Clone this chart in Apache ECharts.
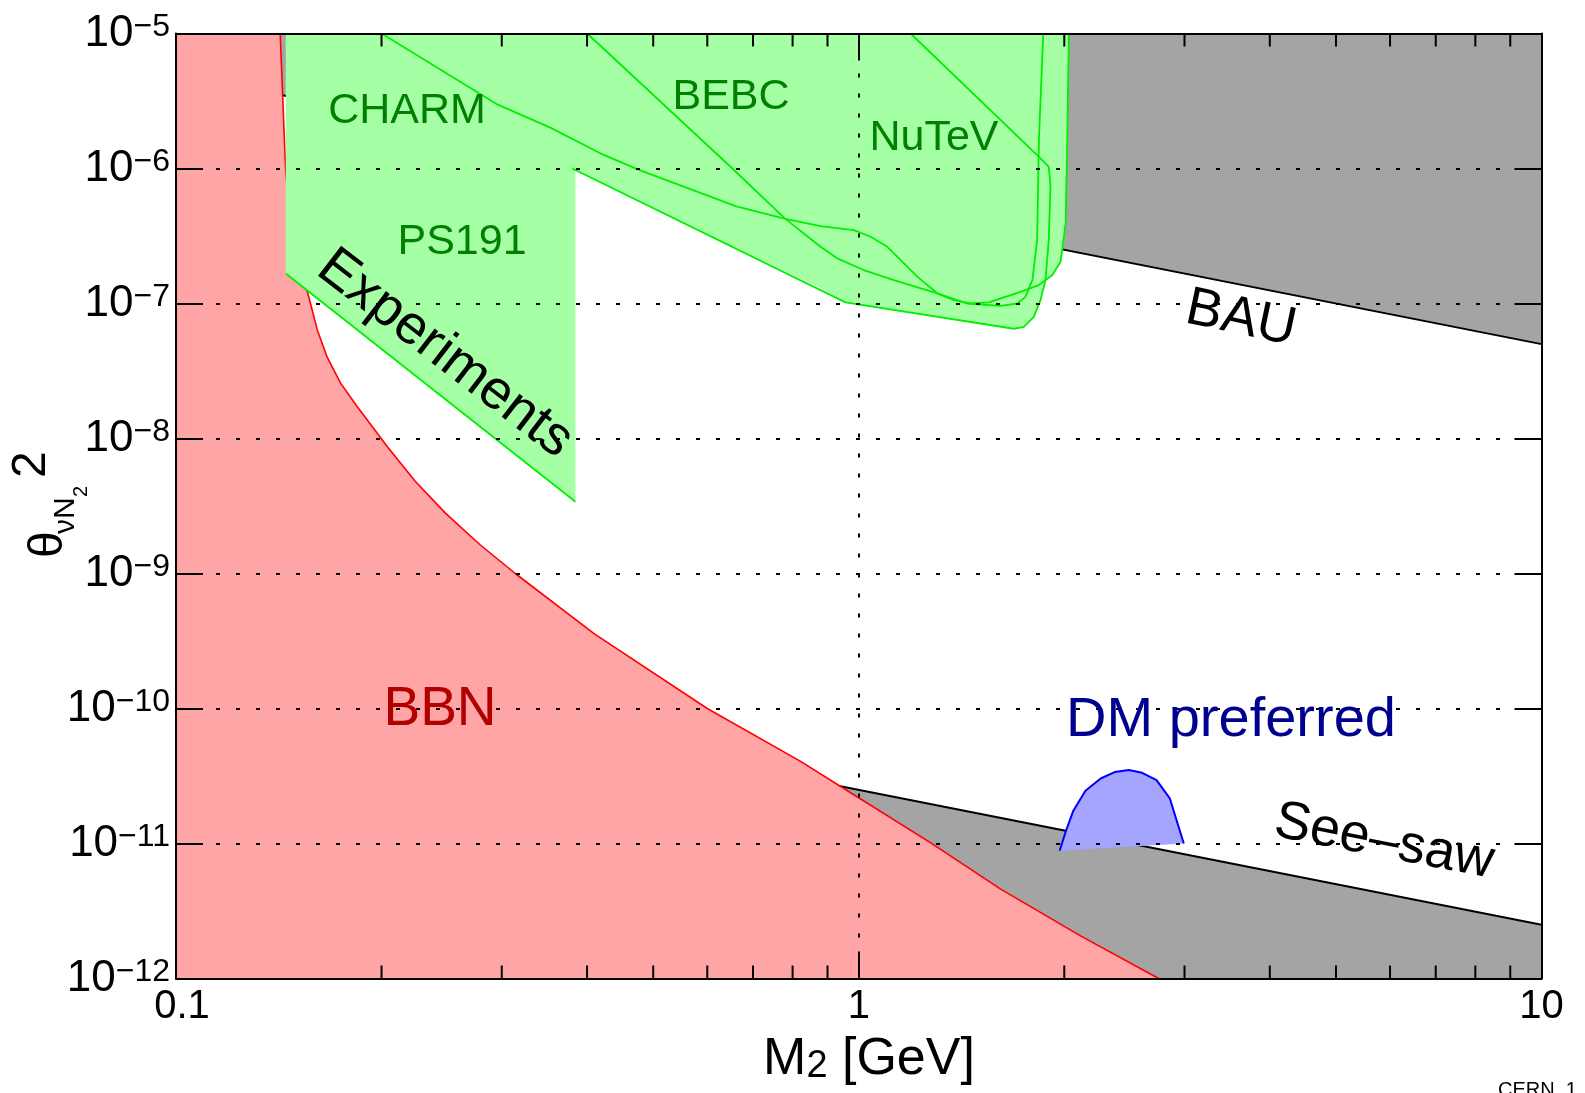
<!DOCTYPE html>
<html>
<head>
<meta charset="utf-8">
<script src="https://cdn.jsdelivr.net/npm/echarts@6/dist/echarts.min.js"></script>
<style>
  html, body { margin: 0; padding: 0; background: #fff; }
  #chart { width: 1585px; height: 1093px; }
</style>
</head>
<body>
<div id="chart"></div>
<script>
// axis ranges and tick labels
const xMin = 0.1, xMax = 10, yMin = 1e-12, yMax = 1e-5;
const xTickLabels = ['0.1', '1', '10'];
const xMinorTicks = [0.2, 0.3, 0.4, 0.5, 0.6, 0.7, 0.8, 0.9, 2, 3, 4, 5, 6, 7, 8, 9];

// BBN lower bound (M [GeV], theta^2)
const bbnCurve = [
  [0.1421, 1e-5], [0.1447, 1e-6], [0.1475, 3.2e-7], [0.1515, 1.7e-7], [0.156, 1.19e-7],
  [0.1574, 1.0e-7], [0.161, 6.4e-8], [0.1665, 4.0e-8], [0.1742, 2.57e-8], [0.1843, 1.72e-8],
  [0.204, 8.7e-9], [0.2239, 4.84e-9], [0.2483, 2.79e-9], [0.2786, 1.64e-9], [0.314, 1e-9],
  [0.41, 3.57e-10], [0.6, 1e-10], [0.822, 4.06e-11], [0.937, 2.68e-11], [1.275, 1.01e-11],
  [1.616, 4.57e-12], [2.116, 2.06e-12], [2.75, 1e-12]
];

// BAU and see-saw lines
const bauLine = [[0.142, 3.52e-6], [10, 5e-8]];
const seesawLine = [[0.936, 2.67e-11], [10, 2.5e-12]];

// union of the experimental exclusions
const expEnvelope = [
  [0.1448, 1e-5], [0.1448, 1.67e-7], [0.3846, 3.4e-9], [0.3846, 9.7e-7], [0.3805, 1e-6],
  [0.561, 3.81e-7], [0.879, 1.30e-7], [0.9565, 1.02e-7], [1.687, 6.5e-8], [1.745, 6.7e-8],
  [1.805, 7.97e-8], [1.846, 1.06e-7], [1.877, 1.49e-7], [1.92, 1.62e-7], [1.975, 2.04e-7],
  [1.986, 2.49e-7], [2.009, 3.92e-7], [2.02, 1.62e-6], [2.031, 1e-5]
];
const ps191Lower = [[0.1448, 1.67e-7], [0.3846, 3.4e-9]];
const charmLine = [
  [0.2, 1e-5], [0.296, 2.97e-6], [0.354, 2.0e-6], [0.419, 1.29e-6], [0.4755, 9.8e-7],
  [0.662, 5.24e-7], [0.781, 4.23e-7], [0.879, 3.74e-7], [0.9836, 3.5e-7], [1.041, 3.12e-7],
  [1.101, 2.63e-7], [1.218, 1.58e-7], [1.303, 1.19e-7], [1.378, 1.06e-7], [1.458, 1.0e-7],
  [1.55, 1.02e-7], [1.726, 1.22e-7], [1.835, 1.37e-7], [1.92, 1.62e-7], [1.975, 2.04e-7],
  [1.986, 2.49e-7], [2.009, 3.92e-7], [2.02, 1.62e-6], [2.031, 1e-5]
];
const bebcLine = [
  [0.4002, 1e-5], [0.653, 1e-6], [0.78, 4.25e-7], [0.879, 2.63e-7], [0.93, 2.16e-7],
  [1.017, 1.77e-7], [1.126, 1.49e-7], [1.303, 1.19e-7], [1.442, 1.0e-7], [1.613, 9.6e-8],
  [1.707, 1.0e-7], [1.755, 1.12e-7], [1.796, 1.49e-7], [1.825, 2.95e-7], [1.836, 1.62e-6],
  [1.863, 1e-5]
];
const nutevLine = [
  [0.3805, 1e-6], [0.9565, 1.02e-7], [1.687, 6.5e-8], [1.745, 6.7e-8], [1.805, 7.97e-8],
  [1.846, 1.06e-7], [1.877, 1.49e-7], [1.898, 2.95e-7], [1.909, 7.5e-7], [1.898, 1.03e-6],
  [1.846, 1.19e-6], [1.191, 1e-5]
];

// DM preferred blob
const dmRegion = [
  [1.969, 8.83e-12], [2.009, 1.22e-11], [2.062, 1.75e-11], [2.148, 2.46e-11], [2.261, 3.03e-11],
  [2.37, 3.38e-11], [2.487, 3.5e-11], [2.601, 3.34e-11], [2.73, 2.95e-11], [2.855, 2.16e-11],
  [2.993, 1.0e-11]
];

const FONT = "'Liberation Sans', Arial, Helvetica, sans-serif";
const GREEN_LINE = '#00f000';

const bauFill = bauLine.concat([[xMax, yMax], [bauLine[0][0], yMax]]);
const seesawFill = seesawLine.concat([[xMax, yMin], [seesawLine[0][0], yMin]]);
const bbnFill = [[xMin, yMax]].concat(bbnCurve, [[xMin, yMin]]);

function fillSeries(points, color, z) {
  return {
    type: 'custom',
    coordinateSystem: 'cartesian2d',
    silent: true,
    z: z,
    data: points,
    renderItem: (params, api) => {
      if (params.dataIndex !== 0) return null;
      return {
        type: 'polygon',
        shape: { points: points.map(p => api.coord(p)) },
        style: { fill: color }
      };
    }
  };
}

function lineSeries(points, color, width, z) {
  return {
    type: 'line',
    data: points,
    symbol: 'none',
    showSymbol: false,
    silent: true,
    z: z,
    lineStyle: { color: color, width: width }
  };
}

const chart = echarts.init(document.getElementById('chart'));

const axisLineStyle = { show: true, lineStyle: { color: '#000', width: 2 } };
const tickStyle = { show: true, inside: true, length: 27, lineStyle: { color: '#000', width: 2 } };
const gridLine = {
  show: true, showMinLine: false, showMaxLine: false,
  lineStyle: { color: '#000', width: 2, type: [4, 16] }
};

function label(text, x, y, size, color, rot) {
  return {
    type: 'text', x: x, y: y, rotation: (rot || 0) * Math.PI / 180, z: 20,
    style: {
      text: text, fill: color, fontSize: size, fontFamily: FONT,
      align: 'center', verticalAlign: 'middle',
      textAlign: 'center', textVerticalAlign: 'middle'
    }
  };
}

function yTitlePart(text, x, y, size) {
  return {
    type: 'text', x: x, y: y,
    style: {
      text: text, fontSize: size, fontFamily: FONT, fill: '#000',
      align: 'left', verticalAlign: 'middle', textAlign: 'left', textVerticalAlign: 'middle'
    }
  };
}

const option = {
  animation: false,
  backgroundColor: '#fff',
  grid: { left: 176, right: 43.5, top: 33.5, bottom: 114.5 },
  xAxis: [
    {
      type: 'log', logBase: 10, min: xMin, max: xMax, splitNumber: 2, position: 'bottom', z: 10,
      axisLine: axisLineStyle, axisTick: tickStyle, splitLine: gridLine,
      axisLabel: {
        fontSize: 40, fontFamily: FONT, color: '#000', margin: 8,
        formatter: v => {
          const i = Math.round(Math.log10(v)) + 1;
          return i === 0 ? '{l|' + xTickLabels[i] + '}' : xTickLabels[i];
        },
        rich: {
          l: { fontSize: 40, fontFamily: FONT, color: '#000', padding: [0, 0, 0, 12] }
        }
      }
    },
    {
      type: 'log', logBase: 10, min: xMin, max: xMax, splitNumber: 2, position: 'top', z: 10,
      axisLine: axisLineStyle, axisTick: tickStyle, splitLine: { show: false },
      axisLabel: { show: false }
    }
  ],
  yAxis: [
    {
      type: 'log', logBase: 10, min: yMin, max: yMax, splitNumber: 7, position: 'left', z: 10,
      axisLine: axisLineStyle, axisTick: tickStyle, splitLine: gridLine,
      axisLabel: {
        margin: 6, color: '#000', fontFamily: FONT,
        formatter: v => '{b|10}{s|\u2212' + (-Math.round(Math.log10(v))) + '}',
        rich: {
          b: { fontSize: 44, lineHeight: 44, verticalAlign: 'bottom', fontFamily: FONT, color: '#000' },
          s: { fontSize: 32, lineHeight: 32, padding: [0, 0, 26, 0], verticalAlign: 'top', fontFamily: FONT, color: '#000' }
        }
      }
    },
    {
      type: 'log', logBase: 10, min: yMin, max: yMax, splitNumber: 7, position: 'right', z: 10,
      axisLine: axisLineStyle, axisTick: tickStyle, splitLine: { show: false },
      axisLabel: { show: false }
    }
  ],
  series: [
    fillSeries(bauFill, '#a4a4a4', 1),
    fillSeries(seesawFill, '#a4a4a4', 1),
    lineSeries(bauLine, '#000', 2, 2),
    lineSeries(seesawLine, '#000', 2, 2),
    fillSeries(bbnFill, '#ffa5a5', 3),
    lineSeries(bbnCurve, '#ff0000', 1.6, 4),
    fillSeries(expEnvelope, '#a5ffa5', 5),
    lineSeries(ps191Lower, GREEN_LINE, 1.8, 6),
    lineSeries(charmLine, GREEN_LINE, 1.8, 6),
    lineSeries(bebcLine, GREEN_LINE, 1.8, 6),
    lineSeries(nutevLine, GREEN_LINE, 1.8, 6),
    fillSeries(dmRegion, '#a5a5ff', 7),
    lineSeries(dmRegion, '#0000ff', 2, 8),
    {
      // minor ticks on the log x axis (bottom and top)
      type: 'custom', coordinateSystem: 'cartesian2d', silent: true, clip: false, z: 11,
      data: xMinorTicks.map(v => [v, yMin]),
      renderItem: (params, api) => {
        const v = api.value(0);
        const b = api.coord([v, yMin]);
        const t = api.coord([v, yMax]);
        const st = { stroke: '#000', lineWidth: 2 };
        return {
          type: 'group',
          children: [
            { type: 'line', shape: { x1: b[0], y1: b[1], x2: b[0], y2: b[1] - 13 }, style: st },
            { type: 'line', shape: { x1: t[0], y1: t[1], x2: t[0], y2: t[1] + 13 }, style: st }
          ]
        };
      }
    }
  ],
  graphic: [
    label('CHARM', 407, 111, 43, '#008000'),
    label('BEBC', 731, 97, 43, '#008000'),
    label('NuTeV', 934, 138, 43, '#008000'),
    label('PS191', 462, 242, 43, '#008000'),
    label('BBN', 440, 710, 55, '#b00000'),
    label('DM preferred', 1231, 721, 56, '#000090'),
    label('Experiments', 445, 354, 55, '#000', -37.5),
    label('BAU', 1241, 319, 54, '#000', -12),
    label('See\u2013saw', 1384, 842, 54, '#000', -11),
    {
      type: 'text', x: 869, y: 1034, z: 20,
      style: {
        text: '{m|M}{s|2}{m| [GeV]}', fill: '#000', fontFamily: FONT,
        align: 'center', verticalAlign: 'top', textAlign: 'center', textVerticalAlign: 'top',
        rich: {
          m: { fontSize: 52, lineHeight: 52, verticalAlign: 'top', fontFamily: FONT, fill: '#000', color: '#000' },
          s: { fontSize: 38, lineHeight: 38, padding: [20, 0, 0, 0], verticalAlign: 'bottom', fontFamily: FONT, fill: '#000', color: '#000' }
        }
      }
    },
    {
      // y title: theta_{nu N_2}^2, reading bottom to top
      type: 'group', x: 67, y: 556, rotation: Math.PI / 2, z: 20,
      children: [
        yTitlePart('\u03b8', -2, -18, 48),
        yTitlePart('\u03bdN', 22, -1, 30),
        yTitlePart('2', 59, 14, 20),
        yTitlePart('2', 78, -35, 48)
      ]
    },
    {
      type: 'text', x: 1498, y: 1080, z: 20,
      style: { text: 'CERN_1', fontSize: 20, fontFamily: FONT, fill: '#000', align: 'left', verticalAlign: 'top', textAlign: 'left', textVerticalAlign: 'top' }
    }
  ]
};

chart.setOption(option);
</script>
</body>
</html>
